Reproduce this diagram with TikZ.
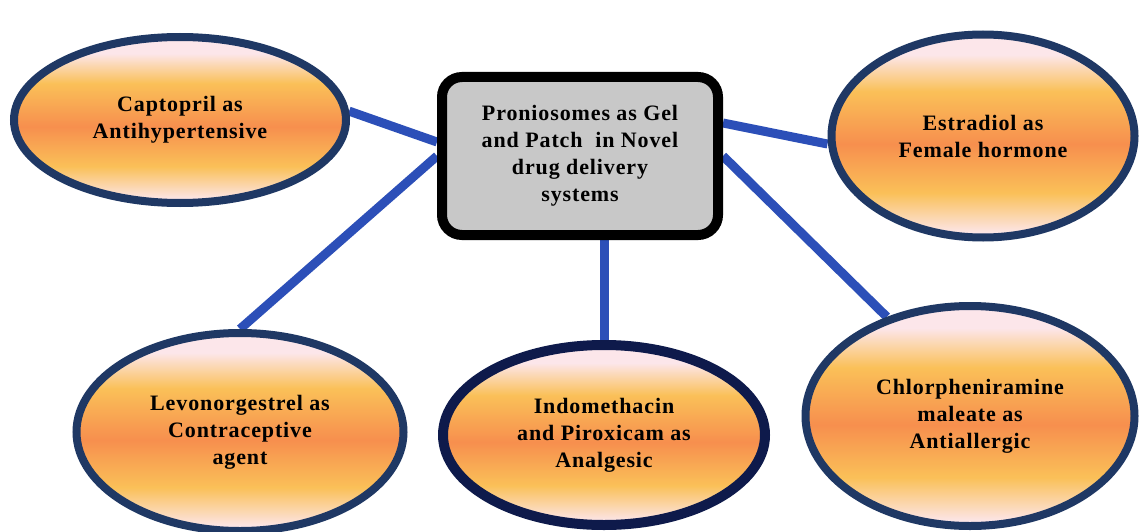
\documentclass[tikz,border=0pt]{standalone}
\usepackage{fontspec}
\setmainfont{Liberation Serif}[LetterSpace=4]
\usepackage{tikz}
\usetikzlibrary{positioning,shapes.geometric,backgrounds}
\definecolor{drugnavy}{HTML}{1F3864}
\definecolor{drugdeep}{HTML}{0E1A4B}
\definecolor{druglink}{HTML}{2C4FB8}
\definecolor{druggrey}{HTML}{C8C8C8}
\definecolor{drugpink}{HTML}{FCE6EA}
\definecolor{druggold}{HTML}{FAC058}
\definecolor{drugorange}{HTML}{F78F4E}
\pgfdeclareverticalshading{drugglow}{100bp}{color(0bp)=(drugpink); color(26bp)=(drugpink); color(36bp)=(druggold); color(48bp)=(drugorange); color(61bp)=(druggold); color(70bp)=(drugpink); color(100bp)=(drugpink)}

\begin{document}
\begin{tikzpicture}[
  x=1pt, y=-1pt,
  font=\fontsize{22}{27}\selectfont\bfseries,
  hub/.style={draw=black, line width=10pt, fill=druggrey, rounded corners=20pt, align=center, inner sep=0pt, minimum width=276pt, minimum height=158pt},
  drug/.style={ellipse, draw=drugnavy, line width=8pt, shading=drugglow, align=center, inner sep=0pt},
  link/.style={draw=druglink, line width=9pt}
]
\useasboundingbox (0,0) rectangle (1139,532);

\node[hub] (box) at (580,156) {Proniosomes as Gel\\and Patch~ in Novel\\drug delivery\\systems};

\node[drug, minimum width=332pt, minimum height=166pt] (capt) at (180,120) {Captopril as\\Antihypertensive};
\node[drug, minimum width=303pt, minimum height=203pt] (estr) at (983,136) {Estradiol as\\Female hormone};
\node[drug, minimum width=327pt, minimum height=198pt] (levo) at (240,432) {Levonorgestrel as\\Contraceptive\\agent};
\node[drug, draw=drugdeep, line width=10pt, minimum width=322pt, minimum height=180pt] (indo) at (604,435) {Indomethacin\\and Piroxicam as\\Analgesic};
\node[drug, minimum width=329pt, minimum height=220pt] (chlor) at (970,416) {Chlorpheniramine\\maleate as\\Antiallergic};

\begin{scope}[on background layer]
\fill[white] (0,0) rectangle (1139,532);
\draw[link] (capt.3) -- ([yshift=14pt]box.west);
\draw[link] (levo.north) -- (box.west);
\draw[link] (indo.north) -- (indo.north |- box.south);
\draw[link] ([yshift=33pt]box.east) -- ([yshift=-8pt]estr.west);
\draw[link] (box.east) -- (chlor.130);
\end{scope}
\end{tikzpicture}
\end{document}
